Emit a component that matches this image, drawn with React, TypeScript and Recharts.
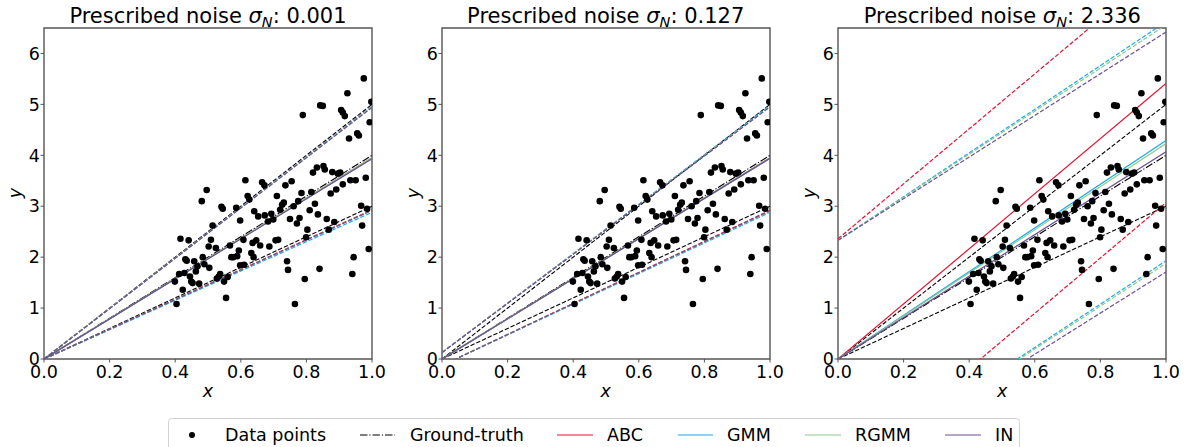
import React from "react";
import { ComposedChart, Line, ReferenceArea, Scatter, XAxis, YAxis } from "recharts";

const pointX = [
  0.404, 0.399, 0.412, 0.416, 0.423, 0.428, 0.431, 0.435, 0.441, 0.445, 0.449, 0.453, 0.458, 0.463, 0.468, 0.473, 0.481, 0.484, 0.489, 0.496,
  0.502, 0.504, 0.509, 0.514, 0.524, 0.527, 0.533, 0.537, 0.541, 0.545, 0.549, 0.555, 0.56, 0.567, 0.571, 0.577, 0.586, 0.589, 0.594, 0.598,
  0.598, 0.608, 0.61, 0.614, 0.621, 0.626, 0.636, 0.641, 0.632, 0.639, 0.647, 0.653, 0.659, 0.665, 0.672, 0.673, 0.683, 0.687, 0.693, 0.699,
  0.706, 0.71, 0.714, 0.72, 0.726, 0.731, 0.736, 0.741, 0.744, 0.75, 0.755, 0.761, 0.765, 0.771, 0.775, 0.779, 0.785, 0.789, 0.795, 0.799,
  0.803, 0.81, 0.815, 0.82, 0.826, 0.832, 0.835, 0.84, 0.842, 0.85, 0.852, 0.856, 0.862, 0.868, 0.874, 0.879, 0.885, 0.891, 0.896, 0.903,
  0.906, 0.911, 0.917, 0.911, 0.925, 0.93, 0.934, 0.94, 0.944, 0.95, 0.955, 0.96, 0.967, 0.97, 0.975, 0.981, 0.985, 0.99, 0.993, 0.998,
];
const pointY = [
  1.08, 1.52, 1.67, 2.36, 1.36, 1.69, 1.96, 1.93, 2.33, 1.62, 1.52, 1.49, 1.92, 1.72, 1.82, 1.48, 3.1, 2.0, 1.86, 3.32,
  2.21, 1.79, 2.34, 2.62, 2.18, 1.58, 1.62, 1.67, 2.99, 2.95, 1.52, 1.2, 1.61, 2.23, 2.0, 2.0, 2.97, 2.02, 2.13, 2.72,
  1.84, 2.34, 1.85, 3.51, 3.2, 3.13, 2.28, 2.9, 2.08, 2.0, 2.33, 2.8, 2.23, 3.47, 3.41, 2.82, 2.7, 2.21, 2.85, 2.74,
  2.33, 3.2, 2.34, 2.93, 3.03, 3.07, 3.41, 1.92, 1.75, 2.75, 3.49, 3.0, 1.08, 2.66, 3.1, 2.77, 3.26, 4.79, 1.57, 2.39,
  2.54, 2.92, 3.28, 3.66, 3.05, 3.76, 2.84, 1.77, 4.98, 4.97, 3.79, 3.72, 2.75, 2.54, 3.25, 3.67, 2.69, 3.33, 3.64, 3.66,
  4.89, 4.84, 4.77, 3.43, 5.22, 4.33, 3.51, 1.67, 2.0, 3.51, 4.43, 4.39, 3.01, 2.62, 5.51, 3.56, 2.95, 2.16, 4.65, 5.05,
];

const noiseLabels = ["0.001", "0.127", "2.336"];
const xTicks = [0, 0.2, 0.4, 0.6, 0.8, 1.0];
const yTicks = [0, 1, 2, 3, 4, 5, 6];

// ground truth (same in every panel): y at x=0 and x=1
const truthCenter = [0, 4.0];
const truthUpper = [0, 5.0];
const truthLower = [0, 3.0];

// per method, per panel: y at x=0 / x=1 for the centre line and the two bounds
const methods = ["ABC", "GMM", "RGMM", "IN"];
const methodColors = ["#e8112d", "#1eaae6", "#8cc88c", "#6b4f8f"];
const centerEnd = [
  [3.95, 3.95, 5.41],
  [3.94, 3.94, 4.29],
  [3.95, 3.95, 4.23],
  [3.93, 3.94, 4.07],
];
const upperStart = [
  [0.001, 0.127, 2.36],
  [0.001, 0.127, 2.33],
  [0.001, 0.127, 2.33],
  [0.001, 0.127, 2.33],
];
const upperEnd = [
  [4.96, 4.97, 7.76],
  [4.96, 4.98, 6.62],
  [4.95, 4.96, 6.56],
  [4.94, 4.95, 6.42],
];
const lowerStart = [
  [-0.001, -0.127, -2.36],
  [-0.001, -0.127, -2.33],
  [-0.001, -0.127, -2.33],
  [-0.001, -0.127, -2.33],
];
const lowerEnd = [
  [2.93, 2.92, 3.07],
  [2.88, 2.88, 1.93],
  [2.92, 2.9, 1.88],
  [2.92, 2.91, 1.71],
];

const points = pointX.map((x, i) => ({ x, y: pointY[i] }));
const seg = (a: number, b: number) => [{ x: 0, y: a }, { x: 1, y: b }];

const FONT = "DejaVu Sans";
const panelLefts = [44, 441.7, 838.3];
const PLOT_W = 328;
const dashed = "4.4 1.9";
const dashDot = "7.5 1.9 1.2 1.9";
const tick = { fill: "#000", fontSize: 17.5, fontFamily: FONT };

function Panel({ p }: { p: number }) {
  return (
    <div style={{ position: "absolute", left: panelLefts[p] - 44, top: 0 }}>
      <ComposedChart width={400} height={400} margin={{ top: 28, right: 28, left: 14, bottom: 11 }}>
        <XAxis type="number" dataKey="x" domain={[0, 1]} ticks={xTicks} allowDataOverflow height={30}
          tickFormatter={(v: number) => v.toFixed(1)} tick={tick} tickSize={3.5} tickMargin={3}
          axisLine={false} tickLine={{ stroke: "#555" }} interval={0} />
        <YAxis type="number" dataKey="y" domain={[0, 6.5]} ticks={yTicks} allowDataOverflow width={30}
          tick={tick} tickSize={3.5} tickMargin={0.5} axisLine={false} tickLine={{ stroke: "#555" }} interval={0} />
        <Scatter data={points} dataKey="y" isAnimationActive={false}
          shape={(s: any) => <circle cx={s.cx} cy={s.cy} r={3.3} fill="#000" />} />
        <Line data={seg(truthUpper[0], truthUpper[1])} dataKey="y" stroke="#000" strokeWidth={1.1} strokeDasharray={dashed} dot={false} isAnimationActive={false} />
        <Line data={seg(truthLower[0], truthLower[1])} dataKey="y" stroke="#000" strokeWidth={1.1} strokeDasharray={dashed} dot={false} isAnimationActive={false} />
        <Line data={seg(truthCenter[0], truthCenter[1])} dataKey="y" stroke="#000" strokeWidth={1.1} strokeDasharray={dashDot} dot={false} isAnimationActive={false} />
        {methods.map((m, k) => [
          <Line key={m + "c"} data={seg(0, centerEnd[k][p])} dataKey="y" stroke={methodColors[k]} strokeWidth={1.2} dot={false} isAnimationActive={false} />,
          <Line key={m + "u"} data={seg(upperStart[k][p], upperEnd[k][p])} dataKey="y" stroke={methodColors[k]} strokeWidth={1.2} strokeDasharray={dashed} dot={false} isAnimationActive={false} />,
          <Line key={m + "l"} data={seg(lowerStart[k][p], lowerEnd[k][p])} dataKey="y" stroke={methodColors[k]} strokeWidth={1.2} strokeDasharray={dashed} dot={false} isAnimationActive={false} />,
        ])}
        <ReferenceArea x1={0} x2={1} y1={0} y2={6.5} fill="none" stroke="#555" strokeWidth={1.4} ifOverflow="visible" />
      </ComposedChart>
    </div>
  );
}

const legendLines = [
  { label: "Ground-truth", x1: 360, x2: 395, tx: 410, color: "#000", dash: dashDot },
  { label: "ABC", x1: 557, x2: 593, tx: 607, color: methodColors[0], dash: undefined },
  { label: "GMM", x1: 678, x2: 713, tx: 727, color: methodColors[1], dash: undefined },
  { label: "RGMM", x1: 805, x2: 841, tx: 855, color: methodColors[2], dash: undefined },
  { label: "IN", x1: 945, x2: 981, tx: 995, color: methodColors[3], dash: undefined },
];

export default function App() {
  return (
    <div style={{ position: "absolute", left: 0, top: 0, width: 1188, height: 447, overflow: "hidden", background: "#fff" }}>
      {[0, 1, 2].map((p) => <Panel key={p} p={p} />)}
      <svg width={1188} height={447} style={{ position: "absolute", left: 0, top: 0, pointerEvents: "none" }} fontFamily={FONT}>
        {panelLefts.map((l, p) => (
          <g key={p}>
            <text x={l + PLOT_W / 2} y={23} textAnchor="middle" fontSize={21}>
              Prescribed noise <tspan fontStyle="italic">σ</tspan>
              <tspan fontStyle="italic" fontSize={14.5} dy={4}>N</tspan>
              <tspan dy={-4}>: {noiseLabels[p]}</tspan>
            </text>
            <text x={l + PLOT_W / 2} y={396.5} textAnchor="middle" fontSize={17.5} fontStyle="italic">x</text>
            <text x={l - 23} y={193} textAnchor="middle" fontSize={17.5} fontStyle="italic" transform={`rotate(-90 ${l - 23} 193)`}>y</text>
          </g>
        ))}
        <rect x={168.5} y={418.5} width={851} height={40} rx={3} fill="#fff" stroke="#d0d0d0" strokeWidth={1} />
        <circle cx={192} cy={435} r={3} fill="#000" />
        <text x={225} y={441} fontSize={17.5}>Data points</text>
        {legendLines.map((d) => (
          <g key={d.label}>
            <line x1={d.x1} x2={d.x2} y1={435} y2={435} stroke={d.color} strokeWidth={1.2} strokeDasharray={d.dash} />
            <text x={d.tx} y={441} fontSize={17.5}>{d.label}</text>
          </g>
        ))}
      </svg>
    </div>
  );
}
